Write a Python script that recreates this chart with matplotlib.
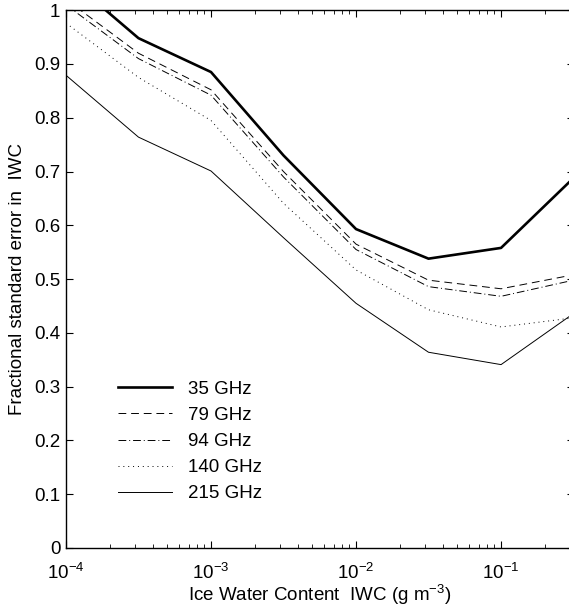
import numpy as np
import matplotlib
matplotlib.use('Agg')
import matplotlib.pyplot as plt

plt.rcParams['font.family'] = ['Liberation Sans', 'DejaVu Sans']
plt.rcParams['mathtext.fontset'] = 'custom'
plt.rcParams['mathtext.rm'] = 'Liberation Sans'

# ice water content (g m^-3), half-decade steps
iwc = [1e-4, 3.16e-4, 1e-3, 3.16e-3, 1e-2, 3.16e-2, 1e-1, 3.16e-1]

err_35 = [1.063, 0.948, 0.885, 0.730, 0.593, 0.538, 0.558, 0.688]
err_79 = [1.020, 0.920, 0.852, 0.700, 0.565, 0.498, 0.482, 0.508]
err_94 = [1.010, 0.910, 0.842, 0.690, 0.555, 0.486, 0.468, 0.498]
err_140 = [0.976, 0.875, 0.795, 0.641, 0.517, 0.443, 0.411, 0.428]
err_215 = [0.879, 0.764, 0.701, 0.577, 0.455, 0.364, 0.341, 0.436]

labels = ['35 GHz', '79 GHz', '94 GHz', '140 GHz', '215 GHz']

fig = plt.figure(figsize=(5.69, 6.07), dpi=100)
ax = fig.add_axes([0.116, 0.0972, 0.892, 0.886])

ax.semilogx(iwc, err_35, color='k', lw=1.9, label=labels[0])
ax.semilogx(iwc, err_79, color='k', lw=0.7, dashes=(8, 5), label=labels[1])
ax.semilogx(iwc, err_94, color='k', lw=0.7, dashes=(8, 3, 1, 3), label=labels[2])
ax.semilogx(iwc, err_140, color='k', lw=0.7, dashes=(1, 4), label=labels[3])
ax.semilogx(iwc, err_215, color='k', lw=0.7, label=labels[4])

ax.set_xlim(1e-4, 10**-0.5)
ax.set_ylim(0, 1)
ax.set_yticks(np.arange(0, 1.01, 0.1))
ax.set_yticklabels(['0', '0.1', '0.2', '0.3', '0.4', '0.5', '0.6', '0.7', '0.8', '0.9', '1'])
ax.set_xticks([1e-4, 1e-3, 1e-2, 1e-1])
ax.set_xticklabels(['$10^{-4}$', '$10^{-3}$', '$10^{-2}$', '$10^{-1}$'])

ax.tick_params(which='both', direction='in', top=True, right=True, labelsize=13.5, pad=4)
ax.tick_params(axis='x', which='both', pad=10.5)
ax.tick_params(which='major', length=5, width=0.8)
ax.tick_params(which='minor', length=3, width=0.6)
for s in ax.spines.values():
    s.set_linewidth(1.0)

ax.set_xlabel('Ice Water Content  IWC (g m$^{-3}$)', fontsize=13.5, labelpad=-1)
ax.set_ylabel('Fractional standard error in  IWC', fontsize=13.5, labelpad=6)

ax.legend(loc='upper left', bbox_to_anchor=(0.1025, 0.311), frameon=False,
          fontsize=13.5, handlelength=2.9, handletextpad=0.85,
          labelspacing=0.48, borderpad=0, borderaxespad=0)

fig.savefig('out.png', dpi=100)
